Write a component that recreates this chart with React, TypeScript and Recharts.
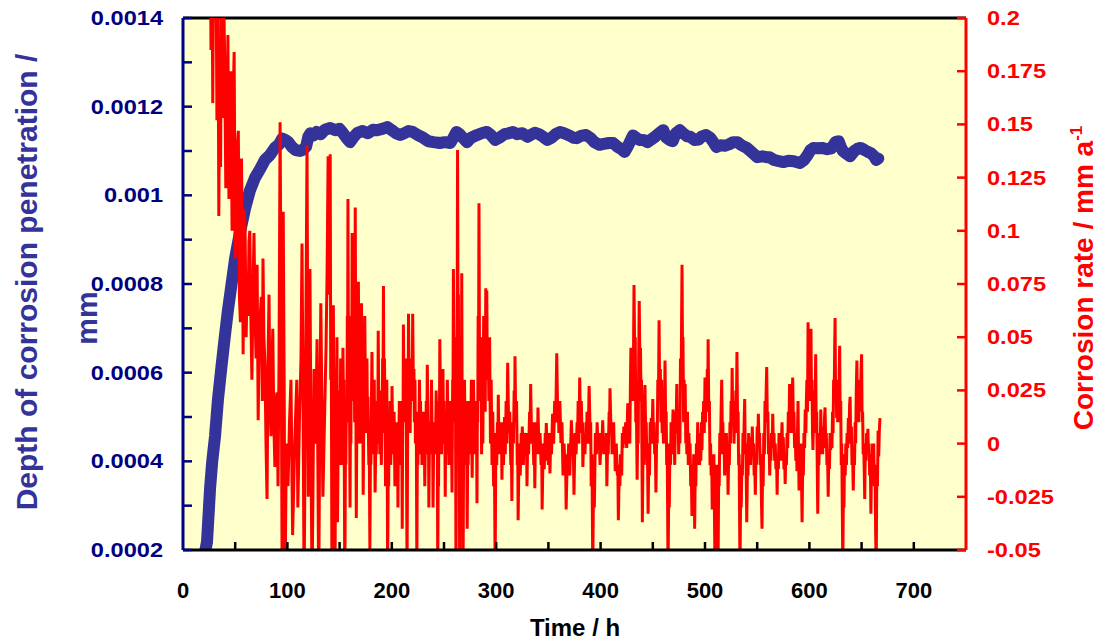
import React from 'react';
import { ComposedChart, Line, XAxis, YAxis, CartesianGrid, ReferenceLine } from 'recharts';

// Depth of corrosion penetration (mm) vs time (h)
const depthSeries: [number, number][] = [
  [21.5, 0.0002], [23, 0.000218], [25.9, 0.000338], [28, 0.0004], [30.7, 0.000457], [33.5, 0.00054],
  [37, 0.000617], [40, 0.00068], [43, 0.00074], [46.5, 0.0008], [50, 0.000859], [54, 0.00091],
  [59.4, 0.00097], [64, 0.00101], [69, 0.00104], [74, 0.00106], [78.5, 0.00108], [83, 0.00109],
  [88, 0.001107], [92, 0.001115], [95, 0.001128], [98, 0.001125], [101, 0.00112], [104, 0.00111],
  [108, 0.001102], [112, 0.0011], [115, 0.001103], [118, 0.00111], [120, 0.001132], [122, 0.00114],
  [125, 0.001135], [128, 0.001143], [132, 0.001138], [136, 0.001148], [141, 0.001152], [146, 0.001147],
  [150, 0.00115], [153, 0.001141], [157, 0.001128], [160, 0.00112], [163, 0.00113], [167, 0.001141],
  [172, 0.001145], [177, 0.00114], [182, 0.001148], [186, 0.001147], [191, 0.00115], [195.6, 0.001154],
  [200, 0.001147], [204, 0.00114], [208, 0.001136], [212, 0.00114], [216, 0.001145], [220, 0.001143],
  [225, 0.001136], [230, 0.00113], [235, 0.001122], [240, 0.00112], [246, 0.001118], [251, 0.00112],
  [256, 0.001118], [259, 0.00113], [262, 0.001143], [265, 0.001138], [268, 0.00113], [272, 0.00112],
  [276, 0.00113], [281.6, 0.001136], [286, 0.00114], [291, 0.001143], [295, 0.001136], [299, 0.001125],
  [303, 0.00113], [308, 0.001138], [312, 0.00114], [316, 0.001143], [320, 0.001138], [325, 0.00114],
  [330, 0.001132], [333, 0.001136], [337, 0.001141], [341, 0.001138], [345, 0.001132], [349, 0.001125],
  [353, 0.00113], [357, 0.001138], [361, 0.001143], [365, 0.00114], [370, 0.001135], [374, 0.00113],
  [377, 0.001129], [381, 0.001134], [386, 0.001136], [390, 0.00113], [394, 0.00112], [399, 0.001114],
  [403, 0.001116], [408, 0.001118], [412, 0.001118], [416, 0.00111], [420, 0.001104], [423, 0.001098],
  [426, 0.00111], [429, 0.001125], [431, 0.001135], [434, 0.00113], [437, 0.001125], [441, 0.001125],
  [445, 0.00112], [448, 0.001125], [452, 0.001132], [456, 0.00114], [460, 0.001147], [463, 0.00113],
  [466, 0.001125], [469, 0.001122], [472, 0.00114], [476, 0.001147], [479, 0.00114], [483, 0.001133],
  [486, 0.001132], [490, 0.001125], [494, 0.001126], [497, 0.001133], [501, 0.001136], [505, 0.00113],
  [508, 0.00112], [511, 0.001109], [515, 0.001113], [519, 0.001112], [523, 0.001115], [527, 0.00112],
  [531, 0.00112], [535, 0.001113], [540, 0.001107], [545, 0.001097], [550, 0.001086], [555, 0.001088],
  [559, 0.001086], [562, 0.001086], [566, 0.00108], [571, 0.001077], [575, 0.001075], [580, 0.001078],
  [585, 0.001077], [591, 0.001073], [595, 0.00108], [598, 0.00109], [601, 0.001102], [604, 0.001107],
  [607, 0.001106], [612, 0.001107], [617, 0.001104], [621, 0.001106], [625, 0.00112], [628, 0.001122],
  [630, 0.00111], [632, 0.0011], [636, 0.001093], [639, 0.001088], [643, 0.0011], [646, 0.001105],
  [649, 0.001107], [653, 0.001102], [656, 0.001098], [659, 0.001095], [662, 0.001088], [664, 0.00108],
  [666, 0.001083],
];

// Corrosion rate (mm/a) vs time (h)
const rateSeries: [number, number][] = [
  [26, 0.25], [26.8, 0.185], [27.6, 0.25], [28.5, 0.16], [29.5, 0.24], [30.5, 0.2], [31.5, 0.24],
  [32.5, 0.152], [33.5, 0.22], [34.3, 0.107], [35.2, 0.19], [36, 0.13], [37, 0.23], [38, 0.153],
  [39, 0.21], [40, 0.179], [41, 0.12], [42, 0.142], [43, 0.192], [44, 0.115], [45, 0.13], [46, 0.175],
  [47, 0.1], [48, 0.16], [49, 0.184], [50, 0.087], [51, 0.104], [52, 0.14], [53, 0.147], [54, 0.07],
  [55, 0.057], [56, 0.134], [57, 0.09], [57.6, 0.042], [58.5, 0.11], [59.4, 0.104], [60.5, 0.05],
  [61.5, 0.08], [62.3, 0.06], [63.2, 0.095], [64, 0.1], [65, 0.06], [66, 0.03], [67, 0.07], [68, 0.099],
  [69, 0.06], [70, 0.04], [71, 0.084], [72, 0.011], [73, 0.05], [74, 0.06], [75, 0.069], [76, 0.02],
  [76.6, 0.087], [77.5, 0.05], [78.5, 0.037], [79.5, 0.0], [80.5, -0.026], [81.5, 0.04], [82.4, 0.07],
  [83.3, 0.02], [84.3, 0.0035], [85.2, 0.035], [86, 0.054], [87, 0.01], [88, -0.011], [89, 0.02],
  [90, 0.024], [91, -0.02], [92, 0.04], [93, 0.151], [94, 0.06], [95, -0.07], [96, 0.109], [97, 0.02],
  [97.7, -0.07], [99, 0.0], [100.6, -0.02], [102, 0.01], [103.4, 0.03], [105, -0.043], [107, 0.0],
  [109, 0.03], [110, -0.03], [111.5, 0.01], [113, 0.04], [114, 0.094], [115, 0.02], [116, -0.07],
  [117.5, 0.04], [118.8, 0.14], [120, -0.025], [121.6, 0.082], [122.6, 0.0], [123.6, -0.07],
  [125.5, 0.035], [127, 0.0], [128.4, 0.049], [130, -0.07], [131, 0.01], [132, 0.066], [133, 0.02],
  [134, -0.025], [135.5, 0.01], [137, 0.045], [138, 0.08],
  [139, 0.135], [139.5, 0.08], [140, 0.1], [140.5, 0.07], [141, 0.136], [141.5, 0.03], [142, 0.05],
  [142.7, -0.07], [143.3, 0.02], [143.7, 0.005], [144, 0.065], [144.8, 0.0], [145.2, 0.01], [145.6, -0.07],
  [146.3, 0.035], [147, 0.01], [147.5, 0.05], [148, -0.037], [148.8, 0.01], [149.2, 0.0], [149.6, 0.025],
  [150.3, -0.01], [151, 0.04], [151.8, 0.005], [152.2, 0.015], [152.6, -0.01], [153.2, 0.045], [153.7, 0.02],
  [154.1, 0.03], [154.6, -0.02], [155, -0.07], [155.6, 0.0], [156, -0.01], [156.5, 0.02], [157, 0.01],
  [157.4, 0.06], [157.7, 0.04], [158, 0.115], [158.5, 0.03], [159, 0.06], [159.5, 0.02], [160, -0.03],
  [160.5, 0.02], [160.8, 0.0], [161.2, 0.04], [161.6, 0.02], [162, 0.099], [162.5, 0.04], [163, 0.06],
  [163.5, 0.03], [164, 0.05], [164.4, 0.01], [165, 0.111], [165.5, 0.03], [166, -0.035], [166.5, 0.01],
  [166.8, 0.0], [167.2, 0.03], [167.6, 0.01], [168, 0.076], [168.5, 0.03], [168.9, 0.04], [169.5, 0.0],
  [170.2, 0.04], [170.6, 0.02], [171, 0.066], [171.8, 0.02], [172.2, 0.03], [172.6, -0.024], [173.3, 0.02],
  [173.7, 0.005], [174.1, 0.06], [174.8, 0.02], [175.2, 0.03], [175.6, 0.005], [176.2, 0.04], [176.7, 0.01],
  [177.1, 0.022], [178, -0.01], [178.4, 0.0], [179, -0.05], [179.6, 0.0], [180, -0.01], [180.5, 0.02],
  [181, 0.043], [181.5, 0.015], [181.9, 0.025], [182.5, -0.005], [183.2, 0.03], [183.6, 0.0], [184, -0.023],
  [184.8, 0.005], [185.2, -0.005], [185.6, 0.02], [186.2, 0.0], [186.6, 0.01], [187, 0.053], [187.6, 0.01],
  [188, 0.02], [188.5, -0.005], [189.2, 0.025], [189.6, 0.005], [190, -0.01], [190.5, 0.015], [190.8, 0.005],
  [191.2, 0.04], [191.6, 0.03], [192, 0.074], [192.5, 0.02], [193, 0.04], [193.5, 0.01], [194, -0.02],
  [194.5, 0.01], [194.8, 0.0], [195.2, 0.03], [195.6, 0.0], [196, -0.06], [196.6, -0.01], [197, -0.02],
  [197.5, 0.01], [198, 0.0], [198.4, 0.02], [199, -0.01], [199.5, 0.005], [199.8, -0.005], [200.2, 0.027],
  [200.8, 0.005], [201.2, 0.01], [201.6, -0.005], [202.2, 0.015], [203, -0.02], [203.6, 0.0], [204.2, -0.01],
  [205, 0.01], [205.5, 0.0], [205.9, -0.03], [206.4, 0.005], [206.8, 0.0], [207.2, 0.02], [207.8, -0.01],
  [208.3, 0.005], [208.7, -0.005], [209.2, 0.02], [209.6, 0.0], [210, -0.04], [210.5, 0.02], [210.8, 0.01],
  [211.1, 0.056], [211.8, 0.02], [212.2, 0.035], [212.6, 0.01], [213.5, 0.04], [214, 0.0], [214.6, -0.06],
  [215.3, 0.02], [215.6, 0.01], [216, 0.061], [216.8, 0.02], [217.2, 0.03], [217.6, 0.005], [218.2, 0.04],
  [218.6, 0.02], [219, 0.03], [219.5, 0.02], [220, 0.061], [220.8, 0.02], [221.2, 0.035], [221.6, 0.01],
  [222.2, 0.03], [222.6, 0.0], [223, 0.015], [223.5, 0.005], [224, -0.06], [224.5, 0.0], [225, -0.01],
  [225.5, 0.015], [226, 0.005], [226.5, 0.03], [227, 0.01], [227.5, 0.02], [227.9, -0.005], [228.5, 0.005],
  [228.9, -0.01], [229.3, 0.01], [229.7, 0.0], [230.1, 0.015], [230.8, -0.005], [231.2, 0.0], [231.6, -0.02],
  [232.2, 0.005], [232.6, -0.005], [233, 0.02], [233.5, 0.0], [234, 0.037], [234.8, 0.005], [235.1, 0.01],
  [235.5, -0.03], [236.2, 0.01], [236.6, 0.0], [237, 0.01], [237.5, -0.005], [238, 0.03], [238.8, 0.0],
  [239.1, 0.005], [239.5, -0.03], [240.2, 0.005], [240.6, -0.005], [241, 0.01], [241.8, -0.005], [242.5, 0.025],
  [243.2, 0.0], [243.6, 0.005], [244, -0.06], [244.5, -0.01], [244.8, -0.02], [245.2, 0.02], [245.6, 0.005],
  [246, 0.049], [246.8, 0.01], [247.2, 0.02], [247.6, -0.005], [248.2, 0.015], [248.6, 0.005], [249, 0.035],
  [249.5, 0.005], [250, 0.02], [250.5, 0.0], [250.8, 0.005], [251.2, -0.025], [251.6, 0.005], [252, -0.005],
  [252.5, 0.01], [252.8, -0.005], [253.2, 0.03], [253.8, 0.005], [254.2, 0.01], [254.6, -0.01], [255.2, 0.01],
  [255.6, 0.0], [256, 0.02], [256.8, -0.005], [257.2, 0.0], [257.7, -0.023], [258.3, 0.03], [258.6, 0.02],
  [259, 0.082], [259.8, 0.02], [260.2, 0.04], [260.6, 0.01], [261, 0.03], [261.5, -0.07], [262.1, 0.05],
  [262.5, 0.03], [263, 0.138], [263.5, 0.05], [263.8, 0.07], [264.2, 0.0], [264.6, 0.02], [265, -0.07],
  [265.5, 0.01], [265.8, 0.0], [266.2, 0.05], [266.6, 0.02], [267, 0.08], [267.5, 0.0], [267.8, 0.01],
  [268.2, -0.07], [268.8, 0.0], [269.2, -0.01], [269.6, 0.03], [270.2, 0.005], [270.6, 0.015], [271, -0.005],
  [271.5, 0.02], [271.8, 0.0], [272.2, -0.04], [272.8, 0.0], [273.2, -0.01], [273.6, 0.02], [274.2, 0.0],
  [274.6, 0.01], [275, -0.005], [275.5, 0.02], [275.8, 0.01], [276.2, 0.03], [276.6, 0.0], [277, -0.016],
  [277.5, 0.01], [277.8, 0.0], [278.2, 0.03], [279, 0.005], [279.5, 0.015], [280, -0.005], [280.8, 0.02],
  [281.2, 0.005], [281.6, -0.028], [282, 0.02], [282.3, 0.01], [282.7, 0.06], [283.1, 0.04], [283.5, 0.113],
  [284, 0.04], [284.5, 0.05], [284.9, 0.02],
  [285.5, 0.05], [286, -0.005], [286.6, 0.02], [287.2, 0.0], [288, 0.06], [288.5, 0.02], [289, 0.045],
  [289.5, 0.015], [290, 0.073], [290.5, 0.04], [291, 0.072], [291.5, 0.03], [292.2, 0.05], [293, 0.02],
  [293.7, 0.05], [294.5, 0.0], [295.2, 0.03], [296, -0.01], [296.7, 0.015], [297.5, -0.02], [298.2, 0.0],
  [299, -0.06], [299.7, 0.005], [300.5, -0.01], [301.2, 0.01], [301.6, -0.005], [302, 0.023], [302.7, -0.005],
  [303.5, 0.01], [304.5, -0.005], [305, 0.005], [305.5, -0.017], [306.2, 0.01], [307, -0.01], [308, 0.0125],
  [308.7, -0.005], [309.5, 0.02], [310.2, 0.0], [311, 0.038], [312, 0.005], [313, 0.015], [314, -0.01],
  [314.5, 0.0], [315, -0.027], [315.7, 0.01], [316.5, 0.0], [317.2, 0.025], [317.7, 0.01], [318, 0.041],
  [318.7, 0.01], [319.5, 0.02], [320.2, -0.01], [320.6, 0.0], [321, -0.036], [322, 0.0], [323, -0.015],
  [324, 0.005], [324.5, -0.005], [325, 0.008], [326, -0.01], [327, 0.005], [328.2, -0.005], [329, 0.005],
  [329.5, -0.02], [330.2, 0.005], [331, -0.005], [332, 0.015], [332.5, 0.005], [333, 0.028], [334, 0.0],
  [335, 0.01], [336, -0.01], [336.5, 0.0], [337, -0.021], [337.7, 0.01], [338.5, -0.005], [339.2, 0.008],
  [339.6, 0.0], [340, 0.017], [341, -0.005], [342, 0.005], [343, -0.01], [343.5, 0.0], [344, -0.031],
  [345, 0.0], [346, -0.012], [347, 0.005], [347.5, -0.002], [348, 0.0097], [349, -0.008], [349.6, 0.0],
  [350, -0.01], [350.7, 0.005], [351.5, -0.014], [352.3, 0.005], [353, -0.005], [354, 0.014], [355, 0.0],
  [356, 0.02], [357, 0.01], [358, 0.0425], [359, 0.01], [359.6, 0.02], [360, 0.005], [361, 0.02],
  [362, 0.0003], [363, 0.01], [364, -0.015], [365, 0.0], [365.8, -0.01], [366.4, -0.005], [367, -0.031],
  [368, -0.008], [368.6, -0.015], [369.4, 0.0], [370.5, -0.015], [372, 0.011], [373.2, -0.005], [373.8, 0.0],
  [374.5, -0.024], [375.5, 0.005], [376.5, -0.005], [377.5, 0.01], [378, 0.005], [378.5, 0.02], [379.2, 0.0],
  [380, 0.031], [380.7, 0.01], [381.5, 0.02], [382.2, 0.005], [382.6, 0.01], [383, -0.011], [384, 0.005],
  [385, -0.005], [386, 0.01], [386.5, 0.0], [387, 0.015], [388, 0.0], [389, 0.027], [390, 0.005],
  [390.5, 0.01], [391, -0.02], [391.7, -0.005], [392.5, -0.06], [393.2, -0.02], [394, -0.03], [395, 0.005],
  [396, -0.005], [396.7, 0.01], [397.5, -0.003], [398.5, 0.005], [399.5, -0.01], [400.7, 0.005], [401.4, 0.0],
  [402, 0.011], [403, -0.005], [404, 0.003], [405, -0.005], [405.5, 0.005], [406, -0.02], [406.7, 0.0],
  [407.3, -0.005], [408.2, 0.015], [408.6, 0.01], [409, 0.026], [410, 0.005], [410.5, 0.01], [411, -0.005],
  [412.5, 0.01], [413.2, -0.005], [413.6, 0.0], [414, -0.013], [415, 0.0], [416, -0.015], [416.5, -0.01],
  [417, -0.036], [418, -0.01], [418.5, -0.02], [419, -0.005], [420.2, -0.015], [420.8, 0.005], [421.5, -0.002],
  [422.3, 0.008], [423, 0.0], [424, 0.01], [425, -0.002], [426, 0.019], [427, 0.005], [427.5, 0.01],
  [428, 0.0], [428.5, 0.025], [429, 0.045], [429.7, 0.02], [430.5, 0.035], [431.2, 0.02], [432, 0.0745],
  [432.7, 0.04], [433.2, 0.05], [433.7, 0.01], [434.2, 0.02], [435, -0.017], [435.5, 0.005], [436, 0.0],
  [436.5, 0.04], [437, 0.067], [437.7, 0.035], [438.2, 0.045], [438.7, 0.02], [439.2, 0.03], [440, -0.037],
  [440.7, 0.0], [441.2, -0.01], [442, 0.02], [442.5, 0.0275], [443.2, 0.005], [443.7, 0.01], [444.3, -0.01],
  [444.8, 0.0], [445.5, -0.033], [446.2, -0.005], [446.8, -0.015], [447.5, 0.01], [448, 0.0], [448.5, 0.012],
  [449.2, 0.0], [450, 0.021], [450.7, 0.0], [451.2, 0.01], [451.8, -0.005], [452.3, 0.005], [453, -0.023],
  [453.7, 0.005], [454.2, 0.0], [454.8, 0.03], [455.4, 0.02], [456, 0.058], [456.6, 0.02], [457.2, 0.035],
  [457.8, 0.01], [458.4, 0.03], [459, 0.005], [459.5, 0.015], [460.2, 0.0], [460.8, 0.025], [461.2, 0.015],
  [461.7, 0.039], [462.3, 0.01], [462.8, 0.015], [463.3, -0.01], [463.8, 0.0], [464.6, -0.06], [465.3, -0.02],
  [465.8, -0.03], [466.4, 0.0], [467, -0.01], [467.5, 0.01], [468.2, -0.005], [468.8, 0.005], [469.4, 0.016],
  [470, -0.005], [470.5, 0.0], [471, -0.01], [471.7, 0.015], [472.2, 0.005], [473, 0.028], [473.6, 0.005],
  [474.2, 0.012], [474.8, -0.005], [475.4, 0.01], [476, 0.0], [476.5, 0.04], [477.2, 0.03], [477.6, 0.06],
  [478, 0.084], [478.5, 0.04], [478.9, 0.05], [479.5, 0.01], [480, 0.03], [480.5, 0.01], [481, 0.028],
  [481.6, 0.0], [482.1, 0.01], [482.6, -0.005], [483.2, 0.015], [484, -0.01], [484.6, 0.005], [485.2, -0.01],
  [485.7, 0.0], [486.3, -0.02], [486.8, -0.01], [487.5, -0.034], [488.2, -0.01], [488.7, -0.02], [489.2, -0.005],
  [489.6, -0.015], [490.1, -0.04], [490.7, -0.01], [491.2, -0.02], [491.8, 0.0], [492.4, -0.01], [493, 0.01],
  [493.6, -0.005], [494.2, 0.005], [494.8, -0.01], [495.4, 0.0], [496, -0.008], [496.6, 0.01], [497.1, -0.003],
  [497.7, 0.015], [498.2, 0.005], [498.7, 0.02], [499.3, 0.005], [500, 0.031], [500.6, 0.01], [501.1, 0.025],
  [501.6, 0.015], [502.2, 0.035], [502.6, 0.02], [503, 0.049], [503.6, 0.015], [504.2, 0.02], [504.8, -0.01],
  [505.3, 0.0], [505.9, -0.015], [506.4, -0.005], [506.9, -0.031], [507.4, -0.01], [508, -0.02], [508.5, -0.005],
  [509, -0.03], [509.6, -0.06], [510.2, -0.02], [510.8, -0.03], [511.3, -0.01], [511.8, -0.04], [512.5, -0.06],
  [513.1, -0.015], [513.6, -0.02], [514.2, 0.005], [514.8, -0.005], [515.4, 0.015], [516, 0.03], [516.6, 0.005],
  [517.1, 0.01], [517.6, -0.005], [518.2, 0.005], [518.8, -0.015], [519.4, -0.005], [519.9, -0.01], [520.5, 0.005],
  [521.1, -0.01], [521.6, -0.005], [522.1, -0.024], [522.7, -0.005], [523.3, -0.01], [523.9, 0.01], [524.4, 0.0],
  [525, 0.02], [525.5, 0.01], [526, 0.0355], [526.6, 0.01], [527.2, 0.02], [527.8, 0.0], [528.4, 0.015],
  [529, 0.005], [529.6, 0.025], [530.1, 0.015], [530.6, 0.043], [531.2, 0.01], [531.7, 0.015], [532.2, -0.01],
  [532.7, -0.005], [533.5, -0.06], [534.2, -0.02], [534.7, -0.03], [535.3, -0.01], [535.8, -0.015], [536.4, 0.005],
  [537, -0.005], [537.5, 0.01], [538, 0.021], [538.6, -0.005], [539.2, 0.0], [540, -0.037], [540.7, -0.01],
  [541.2, -0.015], [541.8, 0.005], [542.4, -0.005], [543, 0.003], [543.6, -0.01], [544.2, 0.0], [544.8, -0.005],
  [545.3, 0.008], [545.9, -0.005], [546.5, 0.0], [547.1, -0.015], [547.6, -0.008], [548.2, -0.024], [548.8, -0.005],
  [549.4, -0.01], [550, 0.008], [550.6, 0.0], [551.1, 0.014], [551.7, 0.0], [552.3, 0.005], [552.9, -0.01],
  [553.4, -0.005], [554, -0.025], [554.6, -0.04], [555.2, -0.01], [555.7, -0.02], [556.3, 0.005], [556.9, -0.005],
  [557.5, 0.02], [558.1, 0.01], [558.6, 0.025], [559.1, 0.036], [559.7, 0.01], [560.2, 0.015], [560.8, -0.005],
  [561.4, 0.0], [562, -0.015], [562.6, 0.0], [563.1, -0.008], [563.7, 0.005], [564.3, -0.002], [564.9, 0.014],
  [565.5, 0.0], [566.1, 0.005], [566.7, -0.008], [567.3, 0.0], [567.9, -0.012], [568.5, -0.005], [569.1, -0.024],
  [569.7, -0.005], [570.3, -0.012], [570.9, 0.005], [571.5, -0.005], [572.1, 0.003], [572.7, -0.008], [573.3, 0.002],
  [573.8, 0.01], [574.4, -0.005], [575, 0.003], [575.6, -0.012], [576.2, -0.005], [576.8, -0.019], [577.4, -0.005],
  [578, -0.01], [578.6, 0.005], [579.2, -0.002], [579.8, 0.015], [580.4, 0.005], [581, 0.028], [581.6, 0.005],
  [582.2, 0.015], [582.8, 0.005], [583.4, 0.02], [584, 0.031], [584.6, 0.01], [585.2, 0.015], [585.8, -0.002],
  [586.4, 0.005], [587, -0.008], [587.6, 0.0], [588.1, -0.013], [588.6, 0.005], [589.1, 0.02], [589.6, -0.005],
  [590.1, -0.022], [590.7, -0.005], [591.2, -0.012], [591.8, 0.0], [592.4, -0.015], [593, -0.037], [593.6, -0.01],
  [594.2, -0.015], [594.8, 0.005], [595.4, -0.002], [596, 0.016], [596.6, 0.005], [597.1, 0.02], [597.6, 0.03],
  [598.2, 0.015], [598.7, 0.057], [599.2, 0.025], [599.7, 0.035], [600.2, 0.02], [600.8, 0.045], [601.5, 0.054],
  [602, 0.02], [602.5, 0.03], [603, 0.005], [603.4, -0.003], [604, 0.015], [604.5, 0.005], [605, 0.025],
  [605.5, 0.015], [606, 0.042], [606.5, 0.01], [607, 0.015], [607.5, -0.01], [608, -0.033], [608.6, -0.005],
  [609.1, -0.01], [609.7, 0.005], [610.3, -0.005], [610.9, 0.016], [611.5, 0.0], [612.1, 0.008], [612.7, -0.005],
  [613.3, 0.005], [613.9, -0.002], [614.5, 0.012], [615, 0.017], [615.6, 0.0], [616.2, 0.005], [616.8, -0.01],
  [617.4, -0.005], [618, -0.025], [618.6, -0.005], [619.2, -0.012], [619.8, 0.005], [620.4, -0.003], [621, 0.005],
  [621.6, -0.002], [622.2, 0.015], [622.7, 0.005], [623.2, 0.03], [623.7, 0.02], [624.2, 0.045], [624.6, 0.059],
  [625.1, 0.02], [625.6, 0.03], [626.1, 0.012], [626.6, 0.023], [627.1, 0.01], [627.6, 0.03], [628.1, 0.015],
  [628.6, 0.035], [629, 0.046], [629.5, 0.01], [630, 0.02], [630.5, -0.01], [631, 0.0], [631.5, -0.03],
  [632, -0.06], [632.6, -0.02], [633.1, -0.03], [633.7, -0.005], [634.3, -0.015], [634.9, 0.0], [635.5, -0.01],
  [636.1, 0.005], [636.7, -0.002], [637.3, 0.012], [637.9, 0.0], [638.5, 0.018], [639, 0.022], [639.6, 0.0],
  [640.2, 0.008], [640.8, -0.01], [641.4, -0.005], [642, -0.022], [642.6, -0.005], [643.2, -0.01], [643.8, 0.01],
  [644.3, 0.0], [644.9, 0.025], [645.5, 0.039], [646, 0.015], [646.5, 0.025], [647, 0.01], [647.5, 0.025],
  [648, 0.015], [648.5, 0.03], [649, 0.02], [649.5, 0.035], [650, 0.042], [650.5, 0.01], [651, 0.015],
  [651.5, -0.005], [652, 0.0], [652.5, -0.012], [653, -0.026], [653.6, 0.0], [654.2, -0.008], [654.8, 0.005],
  [655.4, -0.003], [656, 0.007], [656.6, -0.005], [657.1, 0.0], [657.7, -0.015], [658.3, -0.005], [658.9, -0.033],
  [659.5, -0.01], [660, -0.015], [660.5, 0.0], [661, -0.008], [661.6, 0.0], [662.2, -0.02], [662.8, -0.01],
  [663.4, -0.04], [664, -0.06], [664.6, -0.01], [665.2, -0.02], [665.8, 0.006], [666.4, -0.006], [667, 0.006],
  [667.6, 0.012],
];

const timeTicks = [0, 50, 100, 150, 200, 250, 300, 350, 400, 450, 500, 550, 600, 650, 700, 750];
const timeTickLabels = ['0', '', '100', '', '200', '', '300', '', '400', '', '500', '', '600', '', '700', ''];
const depthTicks = [0.0002, 0.0003, 0.0004, 0.0005, 0.0006, 0.0007, 0.0008, 0.0009, 0.001, 0.0011, 0.0012, 0.0013, 0.0014];
const depthTickLabels = ['0.0002', '', '0.0004', '', '0.0006', '', '0.0008', '', '0.001', '', '0.0012', '', '0.0014'];
const rateTicks = [-0.05, -0.025, 0, 0.025, 0.05, 0.075, 0.1, 0.125, 0.15, 0.175, 0.2];
const rateTickLabels = ['-0.05', '-0.025', '0', '0.025', '0.05', '0.075', '0.1', '0.125', '0.15', '0.175', '0.2'];

const depthData = depthSeries.map(([t, d]) => ({ t, d }));
const rateData = rateSeries.map(([t, r]) => ({ t, r }));

const FONT = '"Liberation Sans", Arial, Helvetica, sans-serif';
const NAVY = '#000080';
const BLUE = '#333399';
const RED = '#FF0000';

const XTick = (props: any) => {
  const { x, y, index } = props;
  const label = timeTickLabels[index];
  const inner = index > 0 && index < timeTicks.length - 1;
  return (
    <g>
      {inner && <line x1={x} x2={x} y1={y} y2={y - 8} stroke="#000" strokeWidth={2.5} />}
      {label !== '' && (
        <text x={x} y={y + 48} textAnchor="middle" fontFamily={FONT} fontWeight="bold" fontSize={22} fill="#000">
          {label}
        </text>
      )}
    </g>
  );
};

const LeftTick = (props: any) => {
  const { x, y, index } = props;
  const label = depthTickLabels[index];
  return (
    <g>
      <line x1={x} x2={x + 9} y1={y} y2={y} stroke={NAVY} strokeWidth={2.5} />
      {label !== '' && (
        <text
          transform={`translate(${x - 20},${y + 7}) scale(1.18,1)`}
          textAnchor="end"
          fontFamily={FONT}
          fontWeight="bold"
          fontSize={20}
          fill={NAVY}
        >
          {label}
        </text>
      )}
    </g>
  );
};

const RightTick = (props: any) => {
  const { x, y, index } = props;
  const label = rateTickLabels[index];
  return (
    <g>
      <line x1={x} x2={x - 9} y1={y} y2={y} stroke={RED} strokeWidth={2.5} />
      <text
        transform={`translate(${x + 21},${y + 7}) scale(1.18,1)`}
        textAnchor="start"
        fontFamily={FONT}
        fontWeight="bold"
        fontSize={20}
        fill={RED}
      >
        {label}
      </text>
    </g>
  );
};

const XTitle = () => (
  <text x={567} y={628} textAnchor="middle" fontFamily={FONT} fontWeight="bold" fontSize={24} fill="#000">
    Time / h
  </text>
);

const LeftTitle = () => (
  <g>
    <text
      transform="translate(29,274) rotate(-90)"
      textAnchor="middle"
      fontFamily={FONT}
      fontWeight="bold"
      fontSize={30}
      fill={BLUE}
    >
      Depth of corrosion penetration /
    </text>
    <text
      transform="translate(89,310) rotate(-90)"
      textAnchor="middle"
      fontFamily={FONT}
      fontWeight="bold"
      fontSize={30}
      fill={BLUE}
    >
      mm
    </text>
  </g>
);

const RightTitle = () => (
  <text
    transform="translate(1085,270) rotate(-90)"
    textAnchor="middle"
    fontFamily={FONT}
    fontWeight="bold"
    fontSize={28}
    fill={RED}
  >
    Corrosion rate / mm a
    <tspan dy={-11} fontSize={17}>-1</tspan>
  </text>
);

export default function App() {
  return (
    <div style={{ width: 1093, height: 633 }}>
      <ComposedChart width={1093} height={633} margin={{ top: 10, right: 0, bottom: 0, left: 0 }}>
        <CartesianGrid fill="#FFFFCC" horizontal={false} vertical={false} stroke="none" />
        <XAxis
          type="number"
          dataKey="t"
          domain={[0, 750]}
          ticks={timeTicks}
          interval={0}
          allowDataOverflow
          height={91}
          tickLine={false}
          tickSize={0}
          tickMargin={0}
          tick={<XTick />}
          axisLine={{ stroke: '#000', strokeWidth: 3 }}
          label={{ content: XTitle }}
        />
        <YAxis
          yAxisId="left"
          type="number"
          domain={[0.0002, 0.0014]}
          ticks={depthTicks}
          interval={0}
          allowDataOverflow
          width={175}
          tickLine={false}
          tickSize={0}
          tickMargin={0}
          tick={<LeftTick />}
          axisLine={{ stroke: NAVY, strokeWidth: 3 }}
          label={{ content: LeftTitle }}
        />
        <YAxis
          yAxisId="right"
          orientation="right"
          type="number"
          domain={[-0.05, 0.2]}
          ticks={rateTicks}
          interval={0}
          allowDataOverflow
          width={135}
          tickLine={false}
          tickSize={0}
          tickMargin={0}
          tick={<RightTick />}
          axisLine={{ stroke: RED, strokeWidth: 3 }}
          label={{ content: RightTitle }}
        />
        <ReferenceLine yAxisId="left" y={0.0014} stroke="#000" strokeWidth={3} ifOverflow="visible" />
        <Line
          yAxisId="left"
          data={depthData}
          dataKey="d"
          type="linear"
          stroke={BLUE}
          strokeWidth={12}
          strokeLinejoin="round"
          strokeLinecap="round"
          dot={false}
          activeDot={false}
          isAnimationActive={false}
        />
        <Line
          yAxisId="right"
          data={rateData}
          dataKey="r"
          type="linear"
          stroke={RED}
          strokeWidth={3}
          dot={false}
          activeDot={false}
          isAnimationActive={false}
        />
      </ComposedChart>
    </div>
  );
}
